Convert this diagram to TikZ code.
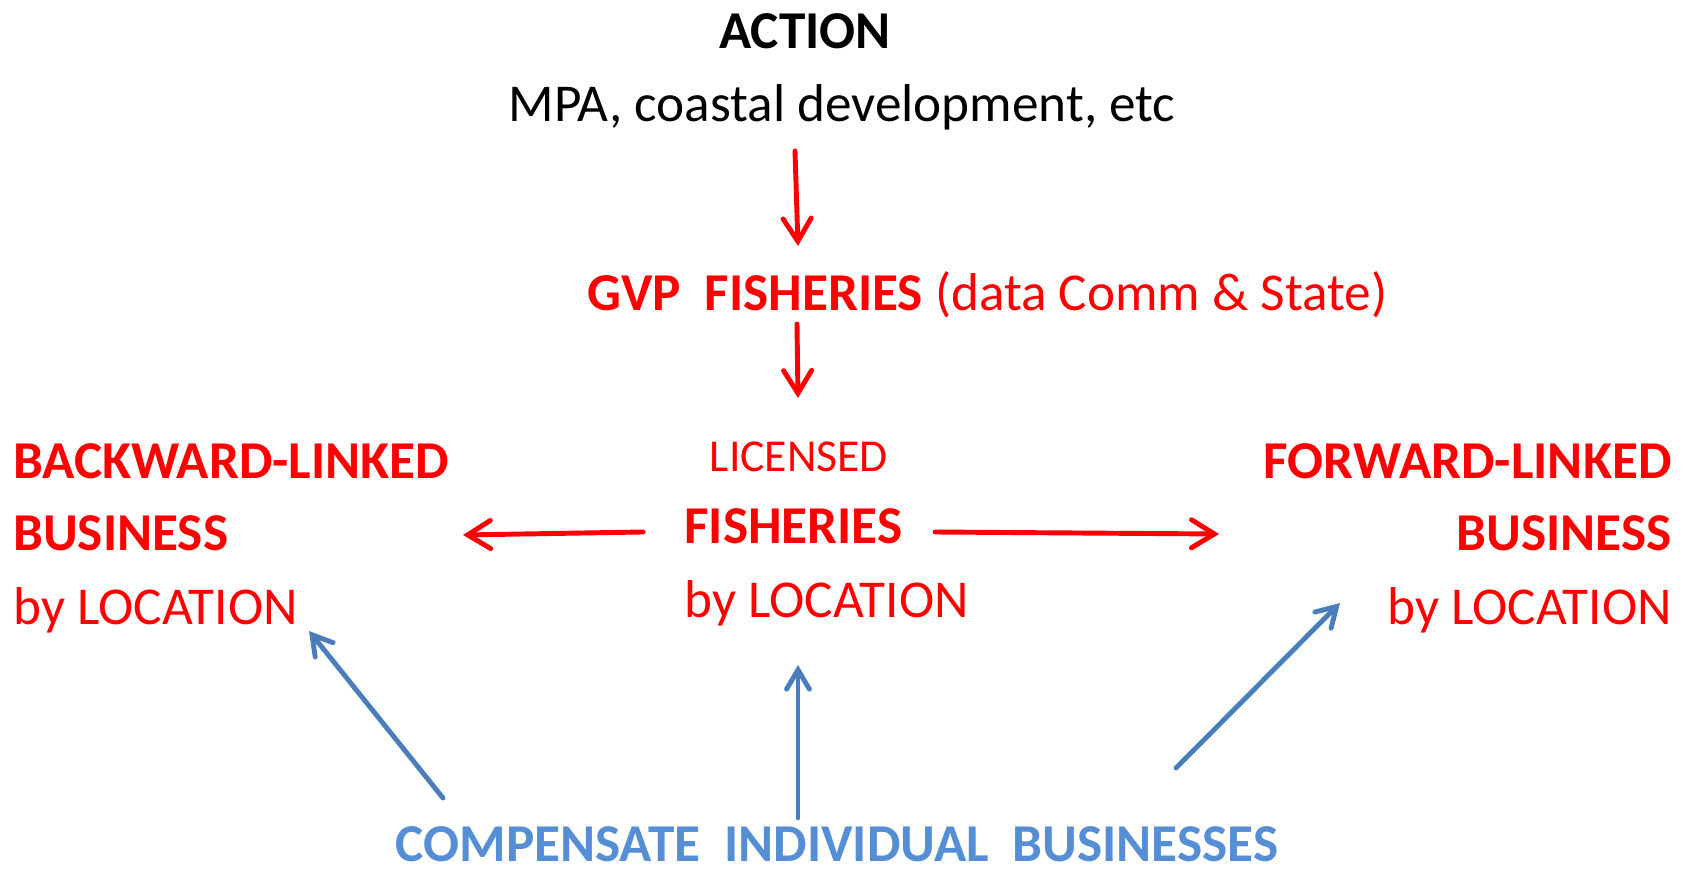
\documentclass[tikz,border=0pt]{standalone}
\usepackage{fontspec}
\setmainfont{Carlito}
\usetikzlibrary{arrows.meta}
\definecolor{fishred}{RGB}{255,0,0}
\definecolor{compblue}{RGB}{74,126,187}
\definecolor{comptext}{RGB}{85,142,213}
\tikzset{
  txt/.style={inner sep=0pt, font=\fontsize{30.3}{36}\selectfont},
  bigtxt/.style={txt, font=\fontsize{30.3}{36}\selectfont\bfseries},
  redarr/.style={draw=fishred, line width=2.8pt, line cap=round, -{Straight Barb[length=13pt,width=16pt,line cap=round]}},
  bluearr/.style={draw=compblue, line width=2.8pt, line cap=round, -{Straight Barb[length=11pt,width=13pt,line cap=round]}}
}
\begin{document}
\begin{tikzpicture}[x=0.02cm,y=-0.02cm]
\useasboundingbox (0,0) rectangle (1695,874);

\node[bigtxt, anchor=base] (action) at (805,49) {ACTION};
\node[txt, anchor=base] (mpa) at (842,122) {MPA, coastal development, etc};
\node[txt, anchor=base west, text=fishred] (gvp) at (587,311) {\bfseries GVP~~FISHERIES \mdseries(data Comm \& State)};

\node[txt, anchor=base, text=fishred, font=\fontsize{26}{30}\selectfont] (lic) at (799,472) {LICENSED};
\node[bigtxt, anchor=base west, text=fishred] (fish) at (684,544) {FISHERIES};
\node[txt, anchor=base west, text=fishred] (fishloc) at (684,618) {by LOCATION};

\node[bigtxt, anchor=base west, text=fishred] (back) at (13,479) {BACKWARD-LINKED};
\node[bigtxt, anchor=base west, text=fishred] (backbiz) at (13,551) {BUSINESS};
\node[txt, anchor=base west, text=fishred] (backloc) at (13,625) {by LOCATION};

\node[bigtxt, anchor=base east, text=fishred] (fwd) at (1672,479) {FORWARD-LINKED};
\node[bigtxt, anchor=base east, text=fishred] (fwdbiz) at (1672,551) {BUSINESS};
\node[txt, anchor=base east, text=fishred] (fwdloc) at (1672,625) {by LOCATION};

\node[bigtxt, anchor=base, text=comptext] (comp) at (837,862) {COMPENSATE~~INDIVIDUAL~~BUSINESSES};

\coordinate (a1) at (795,151);
\coordinate (a2) at (798,246);
\coordinate (b1) at (797,324);
\coordinate (b2) at (798,398);
\coordinate (l1) at (643,532);
\coordinate (l2) at (463,535);
\coordinate (r1) at (935,532);
\coordinate (r2) at (1219,534);
\draw[redarr] (a1) -- (a2);
\draw[redarr] (b1) -- (b2);
\draw[redarr] (l1) -- (l2);
\draw[redarr] (r1) -- (r2);

\coordinate (c1) at (443,798);
\coordinate (c2) at (309,631);
\coordinate (m1) at (798,818);
\coordinate (m2) at (798,665);
\coordinate (f1) at (1176,768);
\coordinate (f2) at (1340,603);
\draw[bluearr] (c1) -- (c2);
\draw[bluearr] (m1) -- (m2);
\draw[bluearr] (f1) -- (f2);
\end{tikzpicture}
\end{document}
